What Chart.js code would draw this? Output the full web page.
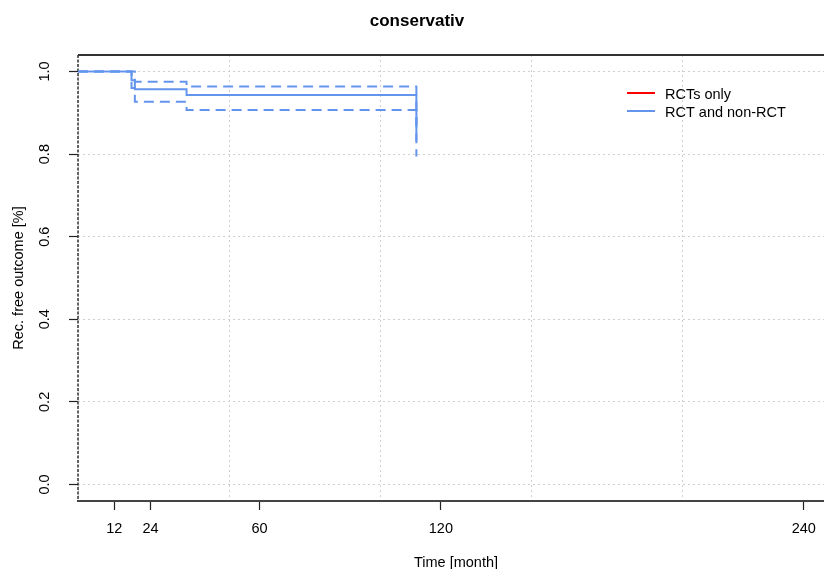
<!DOCTYPE html>
<html>
<head>
<meta charset="utf-8">
<title>conservativ</title>
<script src="https://cdn.jsdelivr.net/npm/chart.js@4.4.1/dist/chart.umd.min.js"></script>
<style>
  html, body { margin: 0; padding: 0; background: #fff; overflow: hidden; }
  #chart { display: block; }
</style>
</head>
<body>
<canvas id="chart" width="870" height="569"></canvas>
<script>
// Kaplan-Meier curves (time in months)
const seriesNames = ['RCTs only', 'RCT and non-RCT'];
const seriesColors = ['#FF0000', '#6495ED'];

// RCTs only: nothing visible in the plot
const rctTime = [];
const rctSurv = [];

// RCT and non-RCT, estimate with confidence band
const allTime = [0, 17.7, 18.8, 35.9, 111.9];
const allSurv = [1.0, 0.979, 0.957, 0.943, 0.831];
const allUpper = [1.0, 1.0, 0.975, 0.964, 0.870];
const allLower = [1.0, 0.960, 0.927, 0.907, 0.794];

const xTicks = [12, 24, 60, 120, 240];
const xGrid = [0, 50, 100, 150, 200, 250];
const yTicks = [0, 0.2, 0.4, 0.6, 0.8, 1.0];

const FONT = '"Liberation Sans", Arial, Helvetica, sans-serif';

function toPoints(times, values) {
    return times.map((t, i) => ({ x: t, y: values[i] }));
}

function setTicks(values) {
    return scale => { scale.ticks = values.map(v => ({ value: v })); };
}

// box round the plot: solid top line, dashed left line
const plotBox = {
    id: 'plotBox',
    beforeDatasetsDraw(chart) {
        const { ctx, chartArea: a } = chart;
        ctx.save();
        ctx.strokeStyle = '#333';
        ctx.lineWidth = 2;
        ctx.beginPath();
        ctx.moveTo(a.left, a.top);
        ctx.lineTo(a.right, a.top);
        ctx.stroke();
        ctx.lineWidth = 1.5;
        ctx.setLineDash([3, 1.5]);
        ctx.beginPath();
        ctx.moveTo(a.left, a.top);
        ctx.lineTo(a.left, a.bottom);
        ctx.stroke();
        ctx.restore();
    }
};

// legend inside the plot, R style
const plotLegend = {
    id: 'plotLegend',
    afterDraw(chart) {
        const { ctx, chartArea: a } = chart;
        const x0 = a.left + 549;
        const y0 = a.top + 38;
        ctx.save();
        ctx.font = '14.5px ' + FONT;
        ctx.textBaseline = 'middle';
        ctx.fillStyle = '#000';
        seriesNames.forEach((name, i) => {
            const y = y0 + i * 18;
            ctx.strokeStyle = seriesColors[i];
            ctx.lineWidth = 2;
            ctx.beginPath();
            ctx.moveTo(x0, y);
            ctx.lineTo(x0 + 28, y);
            ctx.stroke();
            ctx.fillText(name, x0 + 38, y + 1.5);
        });
        ctx.restore();
    }
};

function lineSet(label, times, values, color, dashed) {
    return {
        label: label,
        data: toPoints(times, values),
        borderColor: color,
        backgroundColor: color,
        borderWidth: 2,
        borderDash: dashed ? [10, 6] : [],
        stepped: 'before',
        pointRadius: 0,
        fill: false
    };
}

function setupChart() {
    const ctx = document.getElementById('chart').getContext('2d');
    new Chart(ctx, {
        type: 'line',
        data: {
            datasets: [
                lineSet(seriesNames[0], rctTime, rctSurv, seriesColors[0], false),
                lineSet(seriesNames[1], allTime, allSurv, seriesColors[1], false),
                lineSet(seriesNames[1] + ' upper', allTime, allUpper, seriesColors[1], true),
                lineSet(seriesNames[1] + ' lower', allTime, allLower, seriesColors[1], true)
            ]
        },
        options: {
            responsive: false,
            animation: false,
            devicePixelRatio: 1,
            layout: { padding: { left: 0, right: 36, top: 0, bottom: 0 } },
            plugins: {
                legend: { display: false },
                tooltip: { enabled: false },
                title: {
                    display: true,
                    text: 'conservativ',
                    color: '#000',
                    font: { family: FONT, size: 17, weight: 'bold' },
                    padding: { top: 11, bottom: 23.6 }
                }
            },
            scales: {
                x: {
                    type: 'linear',
                    position: 'bottom',
                    min: 0,
                    max: 250,
                    afterBuildTicks: setTicks(xTicks),
                    afterFit: scale => { scale.height = 68; },
                    ticks: {
                        color: '#000',
                        font: { family: FONT, size: 14.5 },
                        padding: 10,
                        maxRotation: 0,
                        autoSkip: false,
                        callback: v => String(v)
                    },
                    grid: {
                        drawOnChartArea: false,
                        drawTicks: true,
                        tickLength: 9,
                        tickColor: '#222',
                        tickWidth: 1.2
                    },
                    border: { display: true, color: '#444', width: 2 },
                    title: {
                        display: true,
                        text: 'Time [month]',
                        color: '#000',
                        font: { family: FONT, size: 14.5, lineHeight: 0.8 },
                        padding: { top: 18, bottom: 0 }
                    }
                },
                xg: {
                    type: 'linear',
                    position: 'top',
                    min: 0,
                    max: 250,
                    afterBuildTicks: setTicks(xGrid),
                    afterFit: scale => { scale.height = 0; },
                    ticks: { display: false },
                    grid: { color: '#d0d0d0', lineWidth: 1, drawTicks: false },
                    border: { display: false, dash: [2, 3] }
                },
                y: {
                    type: 'linear',
                    position: 'left',
                    min: -0.04,
                    max: 1.04,
                    afterBuildTicks: setTicks(yTicks),
                    afterFit: scale => { scale.width = 78; },
                    ticks: {
                        color: '#000',
                        font: { family: FONT, size: 14.5 },
                        padding: 14,
                        minRotation: 90,
                        maxRotation: 90,
                        crossAlign: 'center',
                        autoSkip: false,
                        callback: v => v.toFixed(1)
                    },
                    grid: {
                        color: '#d0d0d0',
                        lineWidth: 1,
                        drawTicks: true,
                        tickLength: 9,
                        tickColor: '#222',
                        tickWidth: 1.2
                    },
                    border: { display: false, dash: [2, 3] },
                    title: {
                        display: true,
                        text: 'Rec. free outcome [%]',
                        color: '#000',
                        font: { family: FONT, size: 14.5 },
                        padding: { top: 10, bottom: 0 }
                    }
                }
            }
        },
        plugins: [plotBox, plotLegend]
    });
}

window.onload = () => {
    setupChart();
};
</script>
</body>
</html>
